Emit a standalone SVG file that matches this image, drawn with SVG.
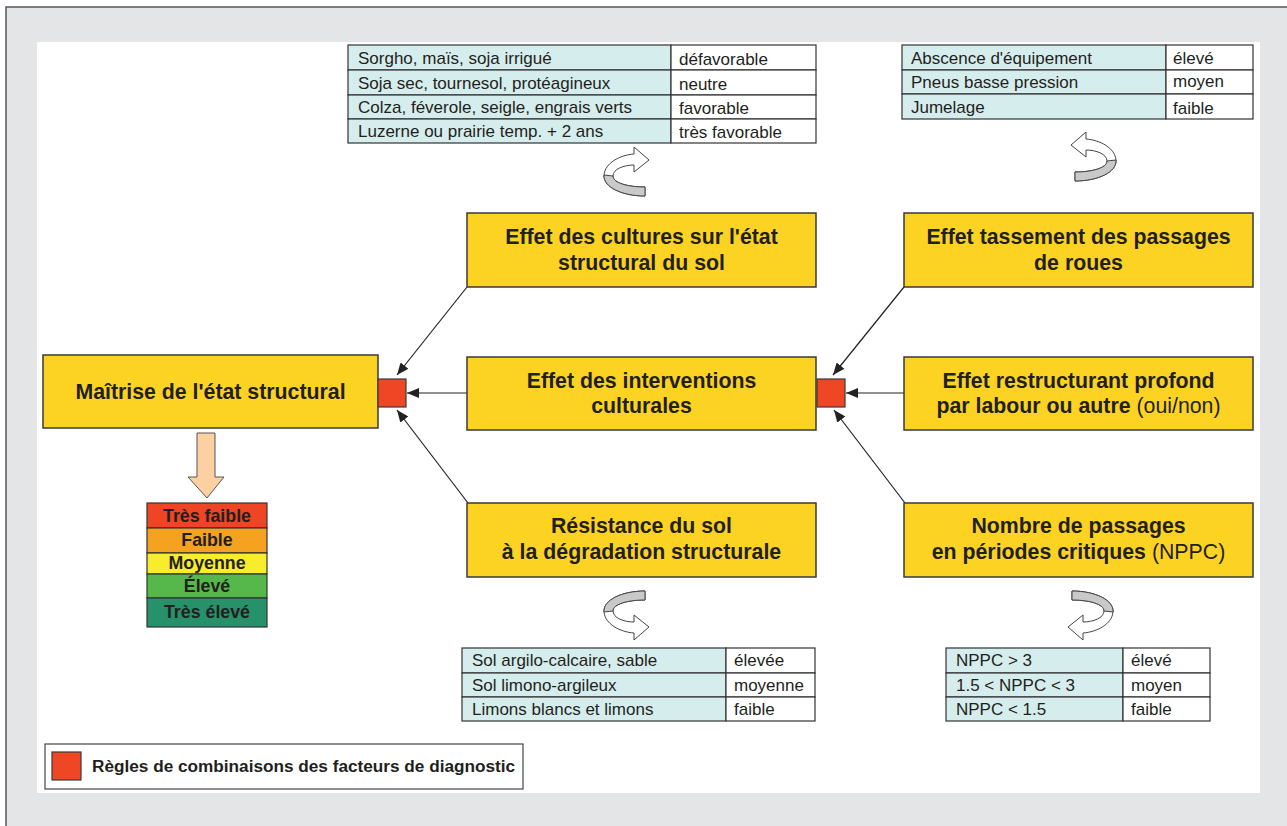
<svg xmlns="http://www.w3.org/2000/svg" width="1287" height="826" viewBox="0 0 1287 826">
<defs>
<style>
.node{fill:#fcd322;stroke:#3a3a3a;stroke-width:1.5}
.red{fill:#ef4626;stroke:#3a3a3a;stroke-width:1.2}
.bt{font-family:"Liberation Sans",Arial,sans-serif;font-weight:bold;font-size:21.3px;fill:#231f20;text-anchor:middle}
.rg{font-weight:normal}
.tc{fill:#d6eded;stroke:#333;stroke-width:1.2}
.tw{fill:#fff;stroke:#333;stroke-width:1.2}
.tt{font-family:"Liberation Sans",Arial,sans-serif;font-size:17px;fill:#231f20}
.conn{stroke:#222;stroke-width:1.2;fill:none;marker-end:url(#ah)}
.sc{font-family:"Liberation Sans",Arial,sans-serif;font-weight:bold;font-size:17.8px;fill:#231f20;text-anchor:middle}
.cw{fill:#fff;stroke:#444;stroke-width:1}
.cg{fill:#c9c9c9;stroke:#444;stroke-width:1}
</style>
<marker id="ah" viewBox="0 0 12 10" refX="12" refY="5" markerWidth="12" markerHeight="10" markerUnits="userSpaceOnUse" orient="auto">
<path d="M0,0 L12,5 L0,10 Z" fill="#222"/>
</marker>
<g id="curl">
<path class="cw" d="M645,591 C622,591 603,600 604,612 C605,624 620,632 634,633 L634,640 L649,627 L634,615 L634,622 C624,622 613,618 613,611 C613,604 628,600 645,600 Z"/>
<path class="cg" d="M645,591 C622,591 603,600 604,612 L613,611 C613,604 628,600 645,600 Z"/>
</g>
</defs>
<rect x="0" y="0" width="1287" height="826" fill="#fff"/>
<rect x="6" y="7" width="1290" height="830" fill="#e4e5e7" stroke="#555" stroke-width="1.5"/>
<rect x="37" y="42" width="1223" height="751" fill="#fff"/>

<g id="connectors">
<line class="conn" x1="467" y1="287" x2="397" y2="375"/>
<line class="conn" x1="467" y1="393" x2="407" y2="393"/>
<line class="conn" x1="468" y1="503" x2="397" y2="410"/>
<line class="conn" x1="904" y1="287" x2="833" y2="375"/>
<line class="conn" x1="904" y1="393" x2="846" y2="393"/>
<line class="conn" x1="905" y1="503" x2="834" y2="410"/>
</g>

<g id="n-maitrise">
<rect class="node" x="43" y="355" width="335" height="73"/>
<text class="bt" x="210.5" y="399">Maîtrise de l'état structural</text>
</g>
<g id="rule-left"><rect class="red" x="378" y="379" width="28" height="28"/></g>
<g id="rule-right"><rect class="red" x="817" y="379" width="28" height="28"/></g>

<g id="n-cultures">
<rect class="node" x="467" y="213" width="349" height="74"/>
<text class="bt" x="641.5" y="244">Effet des cultures sur l'état</text>
<text class="bt" x="641.5" y="270">structural du sol</text>
</g>
<g id="n-interventions">
<rect class="node" x="467" y="357" width="349" height="73"/>
<text class="bt" x="641.5" y="388">Effet des interventions</text>
<text class="bt" x="641.5" y="413">culturales</text>
</g>
<g id="n-resistance">
<rect class="node" x="467" y="503" width="349" height="74"/>
<text class="bt" x="641.5" y="533">Résistance du sol</text>
<text class="bt" x="641.5" y="559">à la dégradation structurale</text>
</g>
<g id="n-tassement">
<rect class="node" x="904" y="213" width="349" height="74"/>
<text class="bt" x="1078.5" y="244">Effet tassement des passages</text>
<text class="bt" x="1078.5" y="270">de roues</text>
</g>
<g id="n-restructurant">
<rect class="node" x="904" y="357" width="349" height="73"/>
<text class="bt" x="1078.5" y="388">Effet restructurant profond</text>
<text class="bt" x="1078.5" y="413">par labour ou autre <tspan class="rg">(oui/non)</tspan></text>
</g>
<g id="n-nppc">
<rect class="node" x="904" y="503" width="349" height="74"/>
<text class="bt" x="1078.5" y="533">Nombre de passages</text>
<text class="bt" x="1078.5" y="559">en périodes critiques <tspan class="rg">(NPPC)</tspan></text>
</g>

<g id="down-arrow">
<path d="M197,433 L215,433 L215,477 L224,477 L207,498 L188,477 L197,477 Z" fill="#fdd0a2" stroke="#555" stroke-width="1"/>
</g>
<g id="scale">
<rect x="147" y="503" width="120" height="25" fill="#ee4524" stroke="#333" stroke-width="1.2"/>
<rect x="147" y="528" width="120" height="25" fill="#f5a220" stroke="#333" stroke-width="1.2"/>
<rect x="147" y="553" width="120" height="21" fill="#f8ed2c" stroke="#333" stroke-width="1.2"/>
<rect x="147" y="574" width="120" height="24" fill="#56b84a" stroke="#333" stroke-width="1.2"/>
<rect x="147" y="598" width="120" height="29" fill="#27916b" stroke="#333" stroke-width="1.2"/>
<text class="sc" x="207" y="522">Très faible</text>
<text class="sc" x="207" y="546">Faible</text>
<text class="sc" x="207" y="569">Moyenne</text>
<text class="sc" x="207" y="592">Élevé</text>
<text class="sc" x="207" y="618">Très élevé</text>
</g>

<g id="table-cultures">
<rect class="tc" x="348" y="45" width="323" height="25"/><rect class="tw" x="671" y="45" width="145" height="25"/>
<rect class="tc" x="348" y="70" width="323" height="25"/><rect class="tw" x="671" y="70" width="145" height="25"/>
<rect class="tc" x="348" y="95" width="323" height="24"/><rect class="tw" x="671" y="95" width="145" height="24"/>
<rect class="tc" x="348" y="119" width="323" height="24"/><rect class="tw" x="671" y="119" width="145" height="24"/>
<text class="tt" x="358" y="64">Sorgho, maïs, soja irrigué</text><text class="tt" x="679" y="65">défavorable</text>
<text class="tt" x="358" y="89">Soja sec, tournesol, protéagineux</text><text class="tt" x="679" y="90">neutre</text>
<text class="tt" x="358" y="113">Colza, féverole, seigle, engrais verts</text><text class="tt" x="679" y="114">favorable</text>
<text class="tt" x="358" y="137">Luzerne ou prairie temp. + 2 ans</text><text class="tt" x="679" y="138">très favorable</text>
</g>
<g id="table-equipement">
<rect class="tc" x="902" y="45" width="264" height="25"/><rect class="tw" x="1166" y="45" width="87" height="25"/>
<rect class="tc" x="902" y="70" width="264" height="24"/><rect class="tw" x="1166" y="70" width="87" height="24"/>
<rect class="tc" x="902" y="94" width="264" height="25"/><rect class="tw" x="1166" y="94" width="87" height="25"/>
<text class="tt" x="911" y="64">Abscence d'équipement</text><text class="tt" x="1173" y="64">élevé</text>
<text class="tt" x="911" y="88">Pneus basse pression</text><text class="tt" x="1173" y="87">moyen</text>
<text class="tt" x="911" y="113">Jumelage</text><text class="tt" x="1173" y="114">faible</text>
</g>
<g id="table-sol">
<rect class="tc" x="462" y="648" width="264" height="25"/><rect class="tw" x="726" y="648" width="89" height="25"/>
<rect class="tc" x="462" y="673" width="264" height="24"/><rect class="tw" x="726" y="673" width="89" height="24"/>
<rect class="tc" x="462" y="697" width="264" height="24"/><rect class="tw" x="726" y="697" width="89" height="24"/>
<text class="tt" x="472" y="666">Sol argilo-calcaire, sable</text><text class="tt" x="734" y="666">élevée</text>
<text class="tt" x="472" y="691">Sol limono-argileux</text><text class="tt" x="734" y="691">moyenne</text>
<text class="tt" x="472" y="715">Limons blancs et limons</text><text class="tt" x="734" y="715">faible</text>
</g>
<g id="table-nppc">
<rect class="tc" x="946" y="648" width="177" height="25"/><rect class="tw" x="1123" y="648" width="87" height="25"/>
<rect class="tc" x="946" y="673" width="177" height="24"/><rect class="tw" x="1123" y="673" width="87" height="24"/>
<rect class="tc" x="946" y="697" width="177" height="24"/><rect class="tw" x="1123" y="697" width="87" height="24"/>
<text class="tt" x="956" y="666">NPPC &gt; 3</text><text class="tt" x="1131" y="666">élevé</text>
<text class="tt" x="956" y="691">1.5 &lt; NPPC &lt; 3</text><text class="tt" x="1131" y="691">moyen</text>
<text class="tt" x="956" y="715">NPPC &lt; 1.5</text><text class="tt" x="1131" y="715">faible</text>
</g>

<g id="curls">
<use href="#curl"/>
<use href="#curl" transform="translate(1717,0) scale(-1,1)"/>
<use href="#curl" transform="translate(0,787) scale(1,-1)"/>
<use href="#curl" transform="translate(1720,772) scale(-1,-1)"/>
</g>

<g id="legend">
<rect x="45" y="744" width="478" height="45" fill="#fff" stroke="#444" stroke-width="1.2"/>
<rect class="red" x="52" y="752" width="29" height="28"/>
<text x="92" y="772" font-family="Liberation Sans, Arial, sans-serif" font-weight="bold" font-size="17.2" fill="#231f20">Règles de combinaisons des facteurs de diagnostic</text>
</g>
</svg>
